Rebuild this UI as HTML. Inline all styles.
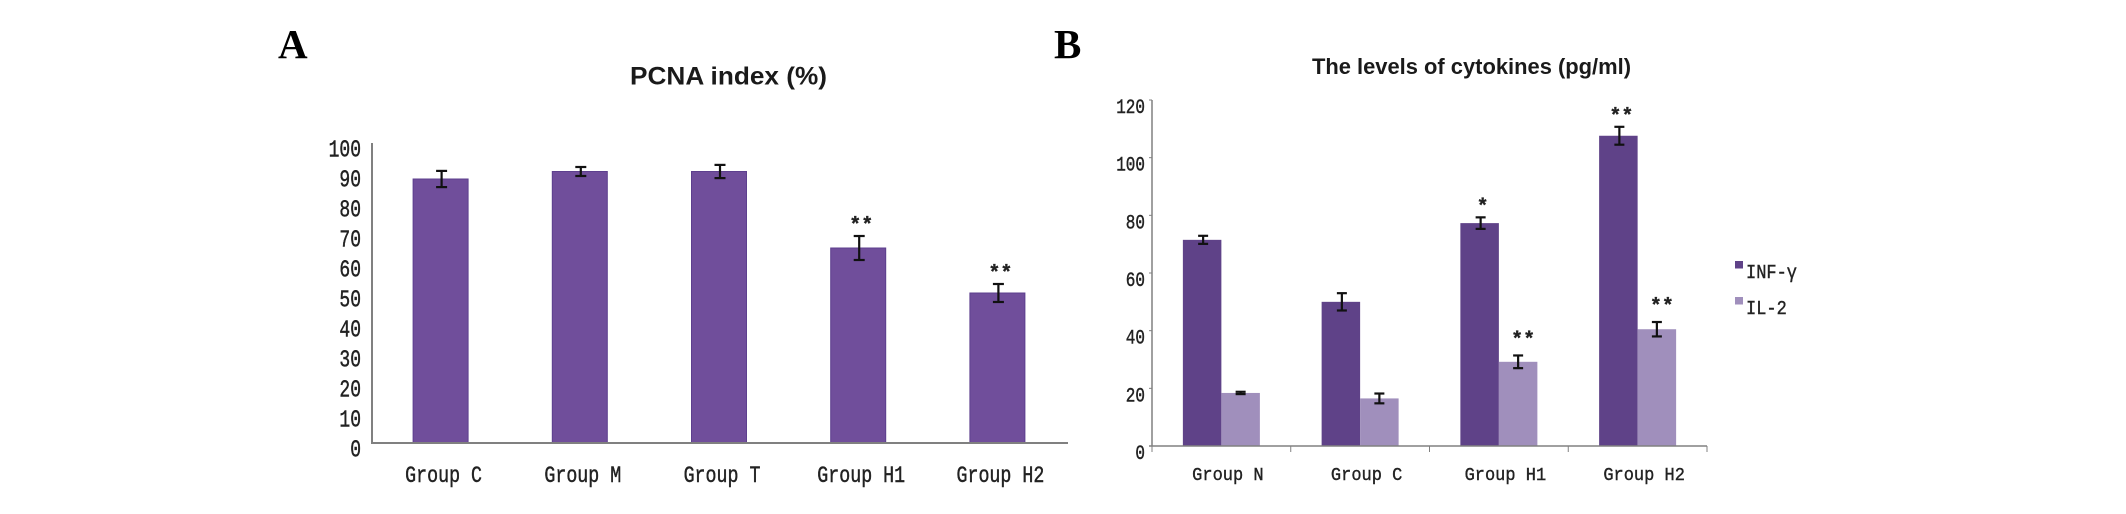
<!DOCTYPE html>
<html lang="en">
<head>
<meta charset="utf-8">
<title>PCNA index and cytokine levels</title>
<style>
html,body{margin:0;padding:0;background:#fff;}
body{width:2126px;height:514px;overflow:hidden;}
svg{display:block;filter:blur(0.35px);}
.title{font-family:"Liberation Sans",sans-serif;font-weight:700;fill:#1a1a1a;}
.panel{font-family:"Liberation Serif",serif;font-weight:700;fill:#000;}
.mono{font-family:"Liberation Mono","DejaVu Sans Mono",monospace;fill:#222;stroke:#222;stroke-width:0.35px;}
.star{font-weight:700;}
</style>
</head>
<body>
<svg id="figure" xmlns="http://www.w3.org/2000/svg" width="2126" height="514" viewBox="0 0 2126 514">
  <text class="panel" x="278" y="58" font-size="41">A</text>
  <text class="panel" x="1054" y="58" font-size="41">B</text>
  <text class="title" x="630" y="84.5" font-size="25" textLength="197" lengthAdjust="spacingAndGlyphs">PCNA index (%)</text>
  <text class="title" x="1312" y="74" font-size="22" textLength="319" lengthAdjust="spacingAndGlyphs">The levels of cytokines (pg/ml)</text>
  <g id="chart-a"></g>
  <g id="chart-b"></g>
  <g id="legend"></g>
</svg>
<script>
// Chart A data
const categoriesA = ["Group C", "Group M", "Group T", "Group H1", "Group H2"];
const pcnaValues = [88, 90.5, 90.5, 65, 50];
const pcnaErrors = [2.7, 1.5, 2.2, 4, 3];
const pcnaMarks = ["", "", "", "**", "**"];
const ticksA = [0, 10, 20, 30, 40, 50, 60, 70, 80, 90, 100];

// Chart B data
const categoriesB = ["Group N", "Group C", "Group H1", "Group H2"];
const infValues = [71.5, 50, 77.3, 107.6];
const infErrors = [1.4, 3, 2, 3.1];
const infMarks = ["", "", "*", "**"];
const il2Values = [18.4, 16.5, 29.2, 40.5];
const il2Errors = [0.4, 1.7, 2.2, 2.5];
const il2Marks = ["", "", "**", "**"];
const ticksB = [0, 20, 40, 60, 80, 100, 120];
const legendLabels = ["INF-γ", "IL-2"];

const NS = "http://www.w3.org/2000/svg";
function mk(parent, tag, attrs) {
  const el = document.createElementNS(NS, tag);
  for (const k in attrs) el.setAttribute(k, attrs[k]);
  parent.appendChild(el);
  return el;
}
function monoText(parent, str, x, y, size, anchor, sy) {
  const el = mk(parent, "text", {
    "class": "mono",
    "font-size": size,
    "text-anchor": anchor,
    transform: "translate(" + x + " " + y + ") scale(1 " + sy + ")"
  });
  el.textContent = str;
  return el;
}
function starText(parent, str, x, y) {
  const el = monoText(parent, str, x, y, 20, "middle", 1);
  el.setAttribute("class", "mono star");
  return el;
}
function errorBar(parent, cx, yTop, yBottom, capW, sw) {
  const g = mk(parent, "g", {stroke: "#111", "stroke-width": sw, fill: "none"});
  
  
  mk(g, "line", {x1: cx, x2: cx, y1: yTop, y2: yBottom});
  mk(g, "line", {x1: cx - capW / 2, x2: cx + capW / 2, y1: yTop, y2: yTop});
  mk(g, "line", {x1: cx - capW / 2, x2: cx + capW / 2, y1: yBottom, y2: yBottom});
}

/* ---------- Chart A ---------- */
(function () {
  const root = document.getElementById("chart-a");
  const left = 372, right = 1068, base = 443, top = 143;
  const yA = v => base - (v / 100) * (base - top);
  const stepA = (right - left) / categoriesA.length;
  const xA = i => left + stepA * (i + 0.5) - 1;
  const barW = 55;

  ticksA.forEach(t => {
    const el = monoText(root, String(t), 361, yA(t) + 13.5, 18, "end", 1.33);
    
    
  });

  categoriesA.forEach((c, i) => {
    const v = pcnaValues[i], e = pcnaErrors[i];
    const bar = mk(root, "rect", {
      x: xA(i) - barW / 2, y: yA(v), width: barW, height: base - yA(v),
      fill: "#704e9b", stroke: "#5d3f8e", "stroke-width": 1
    });
    
    
    errorBar(root, xA(i) + 1, yA(v + e), yA(v - e), 11, 2.2);
    if (pcnaMarks[i]) {
      const star = starText(root, pcnaMarks[i], xA(i) + 3, yA(v + e) - 5);
      
      
    }
    const lab = monoText(root, c, xA(i) + 3, 482, 18.3, "middle", 1.25);
    
    
  });

  const yAxis = mk(root, "line", {x1: left, x2: left, y1: top, y2: base, stroke: "#808080", "stroke-width": 2});
  
  
  const xAxis = mk(root, "line", {x1: left - 1, x2: right, y1: base, y2: base, stroke: "#808080", "stroke-width": 2});
  
  
})();

/* ---------- Chart B ---------- */
(function () {
  const root = document.getElementById("chart-b");
  const left = 1152, right = 1707, base = 446, top = 100;
  const yB = v => base - (v / 120) * (base - top);
  const stepB = (right - left) / categoriesB.length;
  const xB = i => left + stepB * (i + 0.5);
  const barW = 38.5;

  ticksB.forEach(t => {
    const el = monoText(root, String(t), 1145, yB(t) + 13, 16, "end", 1.25);
    
    
    const tk = mk(root, "line", {x1: left - 3, x2: left, y1: yB(t), y2: yB(t), stroke: "#808080", "stroke-width": 1});
    
    
  });

  categoriesB.forEach((c, i) => {
    const cx = xB(i);
    const v1 = infValues[i], e1 = infErrors[i];
    const v2 = il2Values[i], e2 = il2Errors[i];
    const barInf = mk(root, "rect", {x: cx - barW, y: yB(v1), width: barW, height: base - yB(v1), fill: "#5f4288"});
    
    
    const barIl = mk(root, "rect", {x: cx, y: yB(v2), width: barW, height: base - yB(v2), fill: "#a08fbc"});
    
    
    errorBar(root, cx - barW / 2 + 1, yB(v1 + e1), yB(v1 - e1), 10, 2.2);
    errorBar(root, cx + barW / 2, yB(v2 + e2), yB(v2 - e2), 10, 2.2);
    if (infMarks[i]) {
      const s1 = starText(root, infMarks[i], cx - barW / 2 + 3, yB(v1 + e1) - 5);
      
      
    }
    if (il2Marks[i]) {
      const s2 = starText(root, il2Marks[i], cx + barW / 2 + 5, yB(v2 + e2) - 10);
      
      
    }
    const lab = monoText(root, c, cx + 6.5, 480, 17, "middle", 1.1);
    
    
  });

  for (let i = 0; i <= categoriesB.length; i++) {
    const tx = left + stepB * i;
    const tk = mk(root, "line", {x1: tx, x2: tx, y1: base, y2: base + 6, stroke: "#808080", "stroke-width": 1});
    
    
  }
  const yAxis = mk(root, "line", {x1: left, x2: left, y1: top, y2: base, stroke: "#808080", "stroke-width": 1.5});
  
  
  const xAxis = mk(root, "line", {x1: left - 3, x2: right, y1: base, y2: base, stroke: "#808080", "stroke-width": 1.5});
  
  
})();

/* ---------- Legend ---------- */
(function () {
  const root = document.getElementById("legend");
  const swatchFill = ["#5f4288", "#a08fbc"];
  legendLabels.forEach((label, i) => {
    const rowY = 261 + i * 36;
    const sw = mk(root, "rect", {x: 1735, y: rowY, width: 8, height: 7.5, fill: swatchFill[i]});
    
    
    const t = monoText(root, label, 1746, rowY + 17, 17, "start", 1.15);
    
    
  });
})();
</script>
</body>
</html>
